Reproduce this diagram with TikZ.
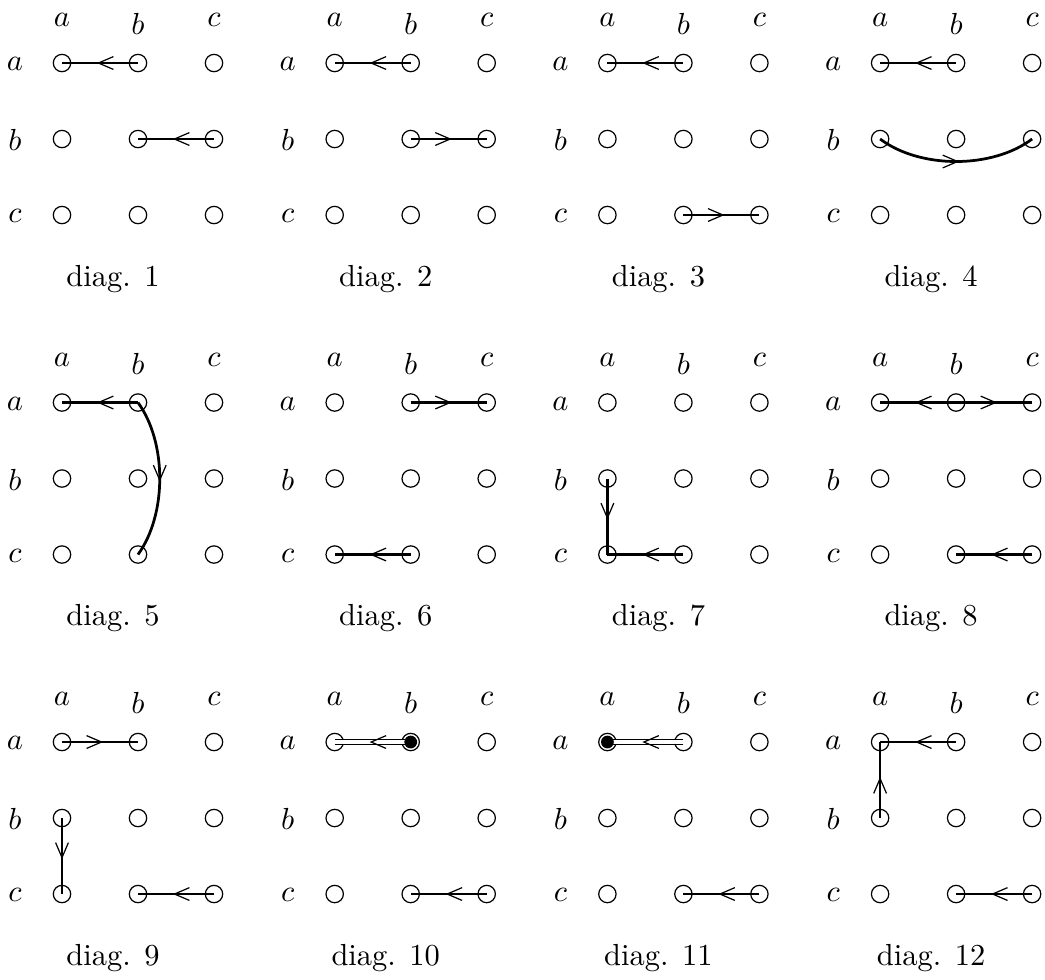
\documentclass[tikz,border=0pt]{standalone}
\usetikzlibrary{decorations.markings}
\begin{document}
\begin{tikzpicture}[x=0.328pt,y=-0.328pt,
  dot/.style={circle,draw,line width=0.4pt,inner sep=0pt,minimum size=5.7pt},
  rowlab/.style={inner sep=0pt,anchor=center},
  collab/.style={inner sep=0pt,anchor=north},
  caplab/.style={inner sep=0pt,anchor=base},
  chev/.style={postaction={decorate},
    decoration={markings,mark=at position 0.5 with
      {\draw[line width=0.4pt,double=none] (-4.4pt,2.1pt) -- (0.5pt,0pt) -- (-4.4pt,-2.1pt);}}},
  link/.style={line width=0.9pt,chev},
  dbl/.style={line width=0.5pt,double,double distance=1.1pt,chev},
  blob/.style={fill=black}]
\useasboundingbox (0,0) rectangle (1045,979);
\foreach \n in {1,...,12}{
  \pgfmathtruncatemacro\j{mod(\n-1,4)}
  \pgfmathtruncatemacro\k{div(\n-1,4)}
  \pgfmathsetmacro\X{62+272.7*\j}
  \pgfmathsetmacro\Y{63+339.5*\k}
  \foreach \r [count=\ri from 0] in {a,b,c}{
    \node[rowlab] (r\n\r) at (\X-47,\Y+76*\ri+1) {$\r$};
    \node[collab] (c\n\r) at (\X+76*\ri,\Y-50) {$\r$};
    \foreach \c [count=\ci from 0] in {a,b,c}
      \node[dot] (d\n\r\c) at (\X+76*\ci,\Y+76*\ri) {};
  }
  \node[caplab] (cap\n) at (\X+51,\Y+152+71) {diag. \n};
}
% diag 1
\draw[link] (d1ab.center) -- (d1aa.center);
\draw[link] (d1bc.center) -- (d1bb.center);
% diag 2
\draw[link] (d2ab.center) -- (d2aa.center);
\draw[link] (d2bb.center) -- (d2bc.center);
% diag 3
\draw[link] (d3ab.center) -- (d3aa.center);
\draw[link] (d3cb.center) -- (d3cc.center);
% diag 4
\draw[link] (d4ab.center) -- (d4aa.center);
\draw[link] (d4ba.center) .. controls +(40,30) and +(-40,30) .. (d4bc.center);
% diag 5
\draw[link] (d5ab.center) -- (d5aa.center);
\draw[link] (d5ab.center) .. controls +(29,40) and +(29,-40) .. (d5cb.center);
% diag 6
\draw[link] (d6ab.center) -- (d6ac.center);
\draw[link] (d6cb.center) -- (d6ca.center);
% diag 7
\draw[link] (d7ba.center) -- (d7ca.center);
\draw[link] (d7cb.center) -- (d7ca.center);
% diag 8
\draw[link] (d8ab.center) -- (d8aa.center);
\draw[link] (d8ab.center) -- (d8ac.center);
\draw[link] (d8cc.center) -- (d8cb.center);
% diag 9
\draw[link] (d9aa.center) -- (d9ab.center);
\draw[link] (d9ba.center) -- (d9ca.center);
\draw[link] (d9cc.center) -- (d9cb.center);
% diag 10
\draw[dbl] (d10ab.center) -- (d10aa.center);
\fill[blob] (d10ab.center) circle[radius=2.1pt];
\draw[link] (d10cc.center) -- (d10cb.center);
% diag 11
\draw[dbl] (d11ab.center) -- (d11aa.center);
\fill[blob] (d11aa.center) circle[radius=2.1pt];
\draw[link] (d11cc.center) -- (d11cb.center);
% diag 12
\draw[link] (d12ab.center) -- (d12aa.center);
\draw[link] (d12ba.center) -- (d12aa.center);
\draw[link] (d12cc.center) -- (d12cb.center);
\end{tikzpicture}
\end{document}
